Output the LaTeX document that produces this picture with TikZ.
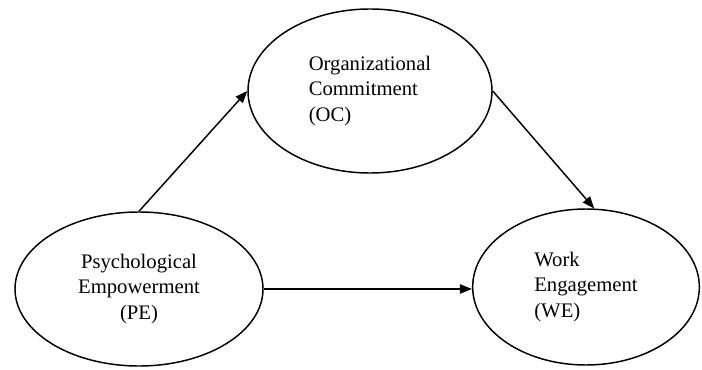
\documentclass[tikz,border=0pt]{standalone}
\usepackage{fontspec}
\setmainfont{Liberation Serif}
\usetikzlibrary{shapes.geometric,arrows.meta}
\tikzset{every picture/.style={line width=1.1pt}}
\tikzset{
	construct/.style={draw, ellipse, inner sep=0pt, font=\fontsize{15.5}{19}\selectfont},
	effect/.style={-{Triangle[length=9pt,width=7pt]}}}

\begin{document}
\begin{tikzpicture}[x=0.75pt,y=0.75pt,yscale=-1,xscale=1]
	\useasboundingbox (0,0) rectangle (702,370);

	%Shape: Ellipse [PE]
	\node[construct, minimum width=186pt, minimum height=115.5pt, align=center] (PE) at (139,289) {Psychological\\Empowerment\\(PE)};
	%Shape: Ellipse [OC]
	\node[construct, minimum width=183pt, minimum height=123pt, align=left] (OC) at (370,91) {Organizational\\Commitment\\(OC)};
	%Shape: Ellipse [WE]
	\node[construct, minimum width=170pt, minimum height=117pt, align=left] (WE) at (586,287) {Work\\Engagement\\(WE)};

	%Straight Lines
	\draw[effect] (PE.north) -- (OC.west);
	\draw[effect] (OC.east) -- (WE.84);
	\draw[effect] (PE.east) -- (PE.east -| WE.west);

\end{tikzpicture}
\end{document}
